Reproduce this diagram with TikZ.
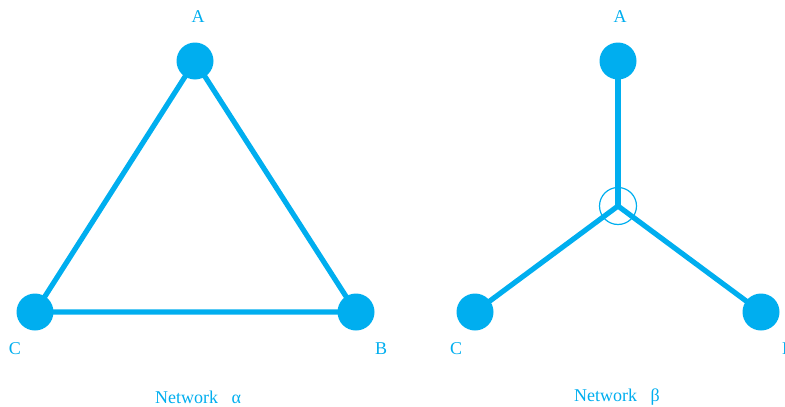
\documentclass[tikz,border=0pt]{standalone}
\usepackage{fontspec}
\setmainfont{Liberation Serif}
\definecolor{netblue}{HTML}{00AEEF}
\begin{document}
\begin{tikzpicture}[x=1pt,y=-1pt,
  vert/.style={circle,fill=netblue,minimum size=37pt,inner sep=0pt},
  edge/.style={draw=netblue,line width=5.2pt},
  lbl/.style={text=netblue,font=\fontsize{18}{21}\selectfont,inner sep=0pt},
  junc/.style={circle,draw=netblue,line width=1.2pt,minimum size=37pt,inner sep=0pt}]
\useasboundingbox (0,0) rectangle (785,407);
\clip (0,0) rectangle (785,407);
% Network alpha
\coordinate (aA) at (195,61);
\coordinate (aB) at (356,312);
\coordinate (aC) at (35,312);
\draw[edge] (aA) -- (aB) -- (aC) -- cycle;
\node[vert] (nA) at (aA) {};
\node[vert] (nB) at (aB) {};
\node[vert] (nC) at (aC) {};
\node[lbl] (lA) at (198,17) {A};
\node[lbl] (lB) at (381,349) {B};
\node[lbl] (lC) at (15,349) {C};
\node[lbl] (ta) at (198,397) {Network\hspace{0.75em}α};
% Network beta
\coordinate (bA) at (618,61);
\coordinate (bO) at (618,206);
\coordinate (bB) at (761,312);
\coordinate (bC) at (475,312);
\node[junc] (jO) at (bO) {};
\draw[edge] (bA) -- (bO);
\draw[edge] (bC) -- (bO);
\draw[edge] (bB) -- (bO);
\node[vert] (mA) at (bA) {};
\node[vert] (mB) at (bB) {};
\node[vert] (mC) at (bC) {};
\node[lbl] (kA) at (620,17) {A};
\node[lbl] (kB) at (788,349) {B};
\node[lbl] (kC) at (456,349) {C};
\node[lbl] (tb) at (617,397) {Network\hspace{0.75em}β};
\end{tikzpicture}
\end{document}
